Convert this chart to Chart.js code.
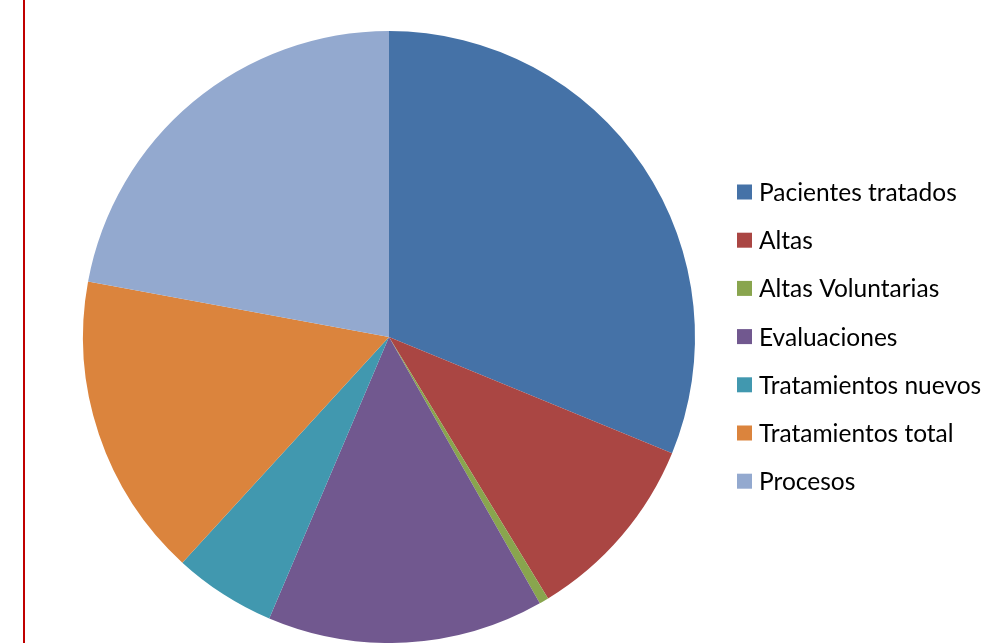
<!DOCTYPE html>
<html>
<head>
<meta charset="utf-8">
<script src="https://cdn.jsdelivr.net/npm/chart.js@4"></script>
<style>
  html, body { margin: 0; padding: 0; background: #fff; }
  #wrap { position: relative; width: 986px; height: 643px; overflow: hidden; }
  #redline { position: absolute; left: 23px; top: 0; width: 2px; height: 643px; background: #c00000; }
</style>
</head>
<body>
<div id="wrap">
  <canvas id="pieChart" width="986" height="643"></canvas>
  <div id="redline"></div>
</div>
<script>
// ==================== DATA ====================
const categories = [
  "Pacientes tratados",
  "Altas",
  "Altas Voluntarias",
  "Evaluaciones",
  "Tratamientos nuevos",
  "Tratamientos total",
  "Procesos"
];
const values = [312, 101, 5, 146, 54, 161, 221];
const colors = ["#4572A7", "#AA4643", "#89A54E", "#71588F", "#4198AF", "#DB843D", "#93A9CF"];

// ==================== LEGEND (drawn on canvas) ====================
const sideLegend = {
  id: "sideLegend",
  afterDraw(chart) {
    const ctx = chart.ctx;
    ctx.save();
    ctx.font = "24.5px Lato";
    ctx.textBaseline = "middle";
    chart.data.labels.forEach((label, i) => {
      const y = 192 + i * 48.2;
      ctx.fillStyle = colors[i];
      ctx.fillRect(737, y - 7.5, 15, 15);
      ctx.fillStyle = "#000";
      ctx.fillText(label, 759, y + 1);
    });
    ctx.restore();
  }
};

// ==================== PIE ====================
new Chart(document.getElementById("pieChart").getContext("2d"), {
  type: "pie",
  data: {
    labels: categories,
    datasets: [{
      data: values,
      backgroundColor: colors,
      borderWidth: 0
    }]
  },
  options: {
    responsive: false,
    animation: false,
    layout: { padding: { left: 83, right: 291, top: 31, bottom: 0 } },
    plugins: {
      legend: { display: false },
      tooltip: { enabled: false }
    }
  },
  plugins: [sideLegend]
});
</script>
</body>
</html>
